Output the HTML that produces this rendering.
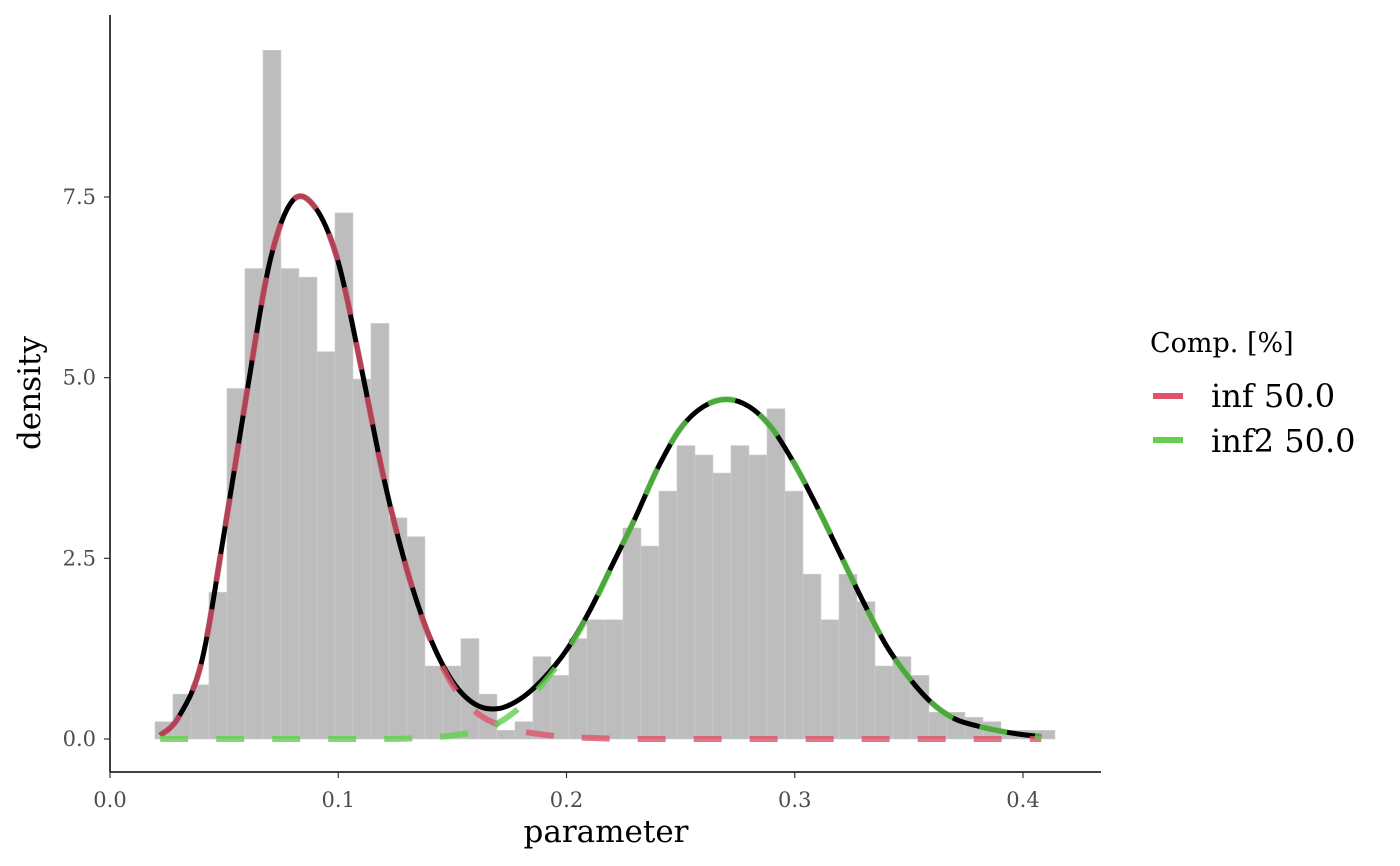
<!DOCTYPE html>
<html><head><meta charset="utf-8"><style>
html,body{margin:0;padding:0;background:#fff;}
svg{display:block;font-family:"DejaVu Serif","Liberation Serif",serif;}
</style></head><body>
<svg id="chart" width="1400" height="866" viewBox="0 0 1400 866" xmlns="http://www.w3.org/2000/svg">
<g id="bars"></g>
<g id="curves"></g>
<g id="axes"></g>
<g id="legend">
<text x="1150" y="352" font-size="27" fill="#000">Comp. [%]</text>
<line x1="1153" y1="396" x2="1183" y2="396" stroke="#DF536B" stroke-width="6"/>
<text x="1211" y="407" font-size="32" fill="#000">inf 50.0</text>
<line x1="1153" y1="440" x2="1183" y2="440" stroke="#61D04F" stroke-width="6"/>
<text x="1211" y="452" font-size="32" fill="#000">inf2 50.0</text>
</g>
</svg>
<script>
const binStart = 0.0197;
const binWidth = 0.007886;
const binDensity = [0.24,0.62,0.75,2.03,4.85,6.51,9.53,6.51,6.39,5.36,7.28,4.98,5.75,3.06,2.80,1.01,1.01,1.39,0.62,0.12,0.24,1.14,0.88,1.39,1.65,1.65,2.92,2.67,3.43,4.06,3.93,3.68,4.06,3.93,4.57,3.43,2.28,1.65,2.28,1.90,1.01,1.14,0.88,0.37,0.37,0.30,0.24,0.12,0.12,0.12];
const curveX = [0.022,0.03,0.04,0.05,0.06,0.07,0.08,0.09,0.10,0.11,0.12,0.13,0.14,0.15,0.16,0.17,0.18,0.19,0.20,0.21,0.22,0.23,0.24,0.25,0.26,0.27,0.28,0.29,0.30,0.31,0.32,0.33,0.34,0.35,0.36,0.37,0.38,0.39,0.40,0.408];
const comp1 = [0.05,0.3,1.05,2.85,4.8,6.6,7.45,7.35,6.6,5.15,3.6,2.35,1.4,0.75,0.38,0.2,0.11,0.06,0.03,0.015,0.005,0,0,0,0,0,0,0,0,0,0,0,0,0,0,0,0,0,0,0];
const comp2 = [0,0,0,0,0,0,0,0,0,0,0,0.005,0.02,0.05,0.1,0.22,0.45,0.78,1.2,1.75,2.4,3.05,3.75,4.3,4.6,4.7,4.6,4.3,3.8,3.2,2.55,1.9,1.3,0.85,0.5,0.28,0.18,0.11,0.06,0.035];
const xTicks = [0.0,0.1,0.2,0.3,0.4];
const xTickLabels = ["0.0","0.1","0.2","0.3","0.4"];
const yTicks = [0.0,2.5,5.0,7.5];
const yTickLabels = ["0.0","2.5","5.0","7.5"];

const NS="http://www.w3.org/2000/svg";
const sx = v => 110 + v*2282.5;
const sy = v => 739 - v*72.27;
function mk(tag, attrs, parent){const e=document.createElementNS(NS,tag);for(const k in attrs)e.setAttribute(k,attrs[k]);parent.appendChild(e);return e;}

const gb=document.getElementById('bars');
binDensity.forEach((d,i)=>{
  const x0=sx(binStart+i*binWidth), x1=sx(binStart+(i+1)*binWidth);
  const r=mk('rect',{x:x0,y:sy(d),width:x1-x0,height:sy(0)-sy(d),fill:'#bdbdbd',stroke:'#cfcfcf','stroke-width':0.6},gb);
  
  
});

function pathFrom(ys){
  const p=curveX.map((x,i)=>[sx(x),sy(ys[i])]);
  let d=`M${p[0][0]},${p[0][1]}`;
  for(let i=0;i<p.length-1;i++){
    const p0=p[i-1]||p[i],p1=p[i],p2=p[i+1],p3=p[i+2]||p[i+1];
    const c1=[p1[0]+(p2[0]-p0[0])/6,p1[1]+(p2[1]-p0[1])/6];
    const c2=[p2[0]-(p3[0]-p1[0])/6,p2[1]-(p3[1]-p1[1])/6];
    d+=` C${c1[0]},${c1[1]} ${c2[0]},${c2[1]} ${p2[0]},${p2[1]}`;
  }
  return d;
}
const gc=document.getElementById('curves');
const total=comp1.map((v,i)=>v+comp2[i]);
const tl=mk('path',{d:pathFrom(total),fill:'none',stroke:'#000','stroke-width':5},gc);


const c1=mk('path',{d:pathFrom(comp1),fill:'none',stroke:'#DF536B','stroke-width':6,'stroke-dasharray':'28 28','stroke-opacity':0.8},gc);


const c2=mk('path',{d:pathFrom(comp2),fill:'none',stroke:'#61D04F','stroke-width':6,'stroke-dasharray':'28 28','stroke-opacity':0.8},gc);



const ga=document.getElementById('axes');
const ya=mk('line',{x1:110,y1:15,x2:110,y2:772,stroke:'#000','stroke-width':1.5},ga);


const xa=mk('line',{x1:110,y1:772,x2:1101,y2:772,stroke:'#000','stroke-width':1.5},ga);


xTicks.forEach((t,i)=>{
  const tk=mk('line',{x1:sx(t),y1:772,x2:sx(t),y2:778,stroke:'#333','stroke-width':1.2},ga);
  
  
  const lb=mk('text',{x:sx(t),y:807,'font-size':21,fill:'#4d4d4d','text-anchor':'middle'},ga);
  lb.textContent=xTickLabels[i];
  
  
});
yTicks.forEach((t,i)=>{
  const tk=mk('line',{x1:104,y1:sy(t),x2:110,y2:sy(t),stroke:'#333','stroke-width':1.2},ga);
  
  
  const lb=mk('text',{x:96,y:sy(t)+7,'font-size':21,fill:'#4d4d4d','text-anchor':'end'},ga);
  lb.textContent=yTickLabels[i];
  
  
});
const xt=mk('text',{x:606,y:842,'font-size':31,fill:'#000','text-anchor':'middle'},ga);
xt.textContent='parameter';


const yt=mk('text',{x:0,y:0,'font-size':31,fill:'#000','text-anchor':'middle',transform:'translate(40,393) rotate(-90)'},ga);
yt.textContent='density';


</script>
</body></html>
